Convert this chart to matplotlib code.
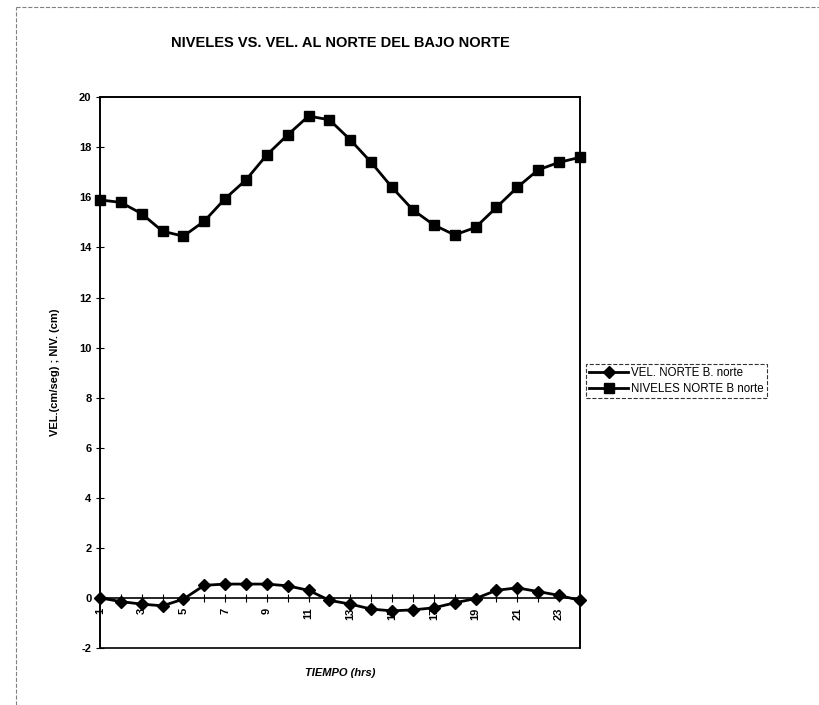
import matplotlib
matplotlib.use("Agg")
import matplotlib.pyplot as plt
from matplotlib.lines import Line2D
from matplotlib.patches import Rectangle

plt.rcParams['font.family'] = ['Liberation Sans', 'DejaVu Sans']

horas = list(range(1, 25))
vel_norte = [0.0, -0.15, -0.25, -0.32, -0.05, 0.5, 0.55, 0.55, 0.55, 0.48, 0.3, -0.1,
             -0.25, -0.45, -0.52, -0.48, -0.4, -0.2, -0.03, 0.3, 0.4, 0.25, 0.1, -0.1]
niveles_norte = [15.9, 15.8, 15.35, 14.65, 14.45, 15.05, 15.95, 16.7, 17.7, 18.5, 19.25, 19.1,
                 18.3, 17.4, 16.4, 15.5, 14.9, 14.5, 14.8, 15.6, 16.4, 17.1, 17.4, 17.6]
yticks = list(range(-2, 21, 2))
xtick_labels = list(range(1, 25, 2))

fig = plt.figure(figsize=(8.19, 7.05), dpi=100)
ax = fig.add_axes([0.122, 0.081, 0.586, 0.781])

ax.plot(horas, vel_norte, color='black', lw=2.0, marker='D', ms=6,
        label='VEL. NORTE B. norte', clip_on=False, zorder=3)
ax.plot(horas, niveles_norte, color='black', lw=2.0, marker='s', ms=7,
        label='NIVELES NORTE B norte', clip_on=False, zorder=3)

ax.set_xlim(1, 24)
ax.set_ylim(-2, 20)

# marco del area de trazado
for s in ['top', 'right', 'left']:
    ax.spines[s].set_linewidth(1.2)
ax.add_patch(Rectangle((0, 0), 1, 1, transform=ax.transAxes, fill=False,
                       lw=1.2, ec='black', clip_on=False))
# eje x cruza en 0
ax.spines['bottom'].set_position(('data', 0))
ax.spines['bottom'].set_linewidth(1.2)

ax.set_xticks(horas, minor=True)
ax.set_xticks(xtick_labels)
ax.set_xticklabels([str(h) for h in xtick_labels], rotation=90,
                   fontsize=8, fontweight='bold')
ax.tick_params(axis='x', which='both', direction='inout', length=6, width=0.8, pad=4)
ax.set_yticks(yticks)
ax.set_yticklabels([str(v) for v in yticks], fontsize=8, fontweight='bold')
ax.tick_params(axis='y', direction='inout', length=6, width=0.8, pad=3)

ax.set_title('NIVELES VS. VEL. AL NORTE DEL BAJO NORTE', fontsize=10.5,
             fontweight='bold', pad=36)
ax.set_ylabel('VEL.(cm/seg) ; NIV. (cm)', fontsize=8, fontweight='bold', labelpad=14)
fig.text(0.415, 0.045, 'TIEMPO (hrs)', fontsize=8, fontweight='bold',
         style='italic', ha='center', va='center')

leg = ax.legend(loc='upper left', bbox_to_anchor=(0.708, 0.492),
                bbox_transform=fig.transFigure, fontsize=8.3, frameon=True,
                fancybox=False, edgecolor='black', borderpad=0.3,
                handlelength=3.4, handletextpad=0.2, labelspacing=0.3)
leg.get_frame().set_linewidth(0.8)
leg.get_frame().set_linestyle('--')

# borde del area del grafico (escaneado)
fig.add_artist(Line2D([0.02, 0.02], [0.0, 0.99], transform=fig.transFigure,
                      color='gray', lw=0.8, ls='--'))
fig.add_artist(Line2D([0.02, 1.0], [0.99, 0.99], transform=fig.transFigure,
                      color='gray', lw=0.8, ls='--'))

fig.savefig('out.png', dpi=100)
